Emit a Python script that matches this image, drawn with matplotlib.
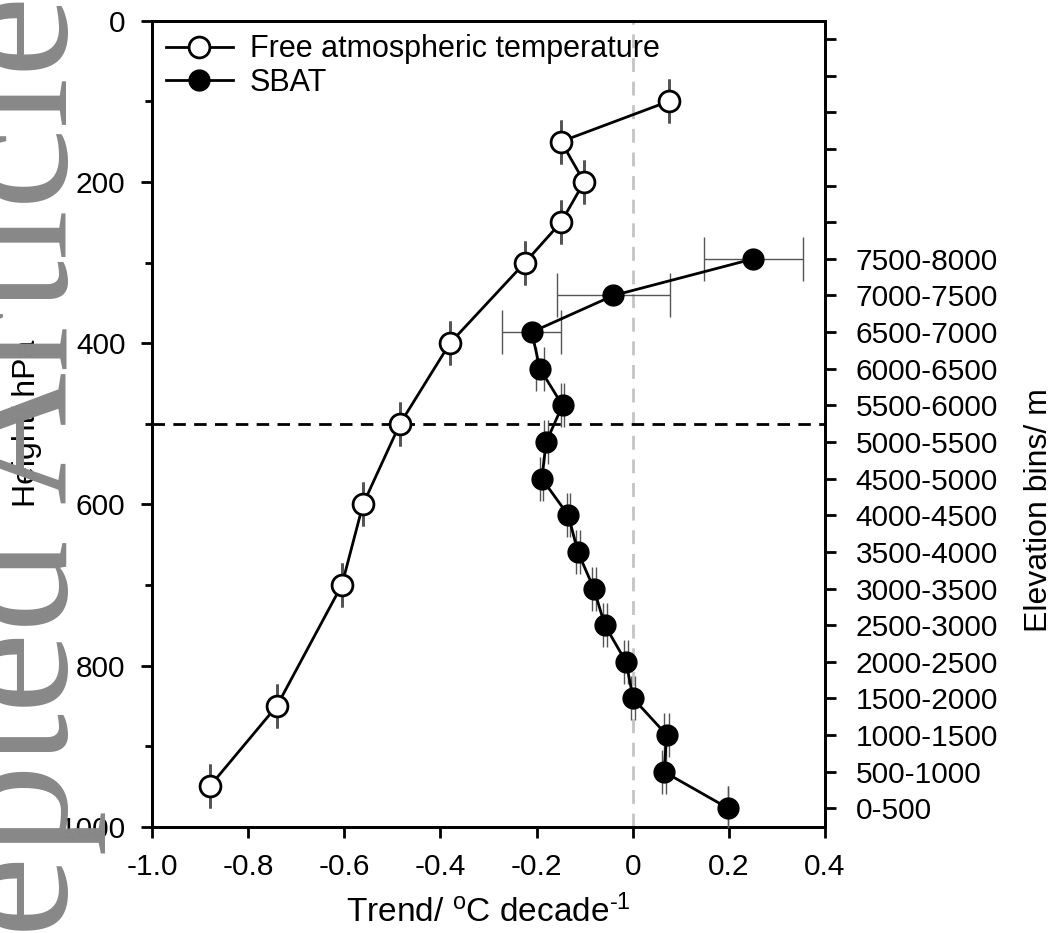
import matplotlib.pyplot as plt
import numpy as np

plt.rcParams['font.family'] = ['Liberation Sans', 'DejaVu Sans']

# free atmospheric temperature trend vs pressure level
pressure = [100, 150, 200, 250, 300, 400, 500, 600, 700, 850, 950]
fat_trend = [0.075, -0.149, -0.101, -0.149, -0.224, -0.38, -0.484, -0.561, -0.605, -0.74, -0.88]
fat_err = [0.0] * 11

# surface based air temperature trend per elevation bin
bins = ['0-500', '500-1000', '1000-1500', '1500-2000', '2000-2500', '2500-3000',
        '3000-3500', '3500-4000', '4000-4500', '4500-5000', '5000-5500',
        '5500-6000', '6000-6500', '6500-7000', '7000-7500', '7500-8000']
sbat_trend = [0.199, 0.065, 0.071, 0.001, -0.014, -0.058, -0.081, -0.114,
              -0.134, -0.189, -0.180, -0.146, -0.193, -0.21, -0.040, 0.251]
sbat_err = [0.0, 0.005, 0.005, 0.004, 0.005, 0.004, 0.004, 0.004,
            0.003, 0.003, 0.004, 0.004, 0.008, 0.061, 0.118, 0.103]

W, H = 1057, 933
fig = plt.figure(figsize=(W / 100, H / 100), dpi=100)
ax = fig.add_axes([152 / W, 1 - 826.7 / H, (825 - 152) / W, (826.7 - 20.7) / H])
ax2 = ax.twinx()

fs = 21.5
ecol = '#555555'

ax.axvline(0, color='#c4c4c4', lw=2, ls=(0, (5, 3.5)), zorder=1)
ax.axhline(500, color='black', lw=2, ls=(0, (4.5, 3)), zorder=1)

e1 = ax.errorbar(fat_trend, pressure, xerr=fat_err, fmt='-o', color='black', lw=2,
                 ms=15, mfc='white', mec='black', mew=2, ecolor=ecol,
                 elinewidth=1, capsize=15.5, capthick=1, zorder=3)
e2 = ax2.errorbar(sbat_trend, np.arange(len(bins)), xerr=sbat_err, fmt='-o', color='black',
                  lw=2, ms=15, mfc='black', mec='black', ecolor=ecol,
                  elinewidth=1, capsize=15.5, capthick=1, zorder=3)

ax.set_xlim(-1.0, 0.4)
ax.set_ylim(1000, 0)
ax2.set_ylim(-0.5, 21.5)

ax.set_xticks(np.arange(-1.0, 0.41, 0.2))
ax.set_xticklabels(['-1.0', '-0.8', '-0.6', '-0.4', '-0.2', '0', '0.2', '0.4'])
ax.set_yticks(np.arange(0, 1001, 200))
ax.set_yticks(np.arange(100, 1000, 200), minor=True)
ax2.set_yticks(np.arange(22))
ax2.set_yticklabels(bins + [''] * 6)

ax.tick_params(axis='both', which='major', direction='out', length=8, width=2,
               labelsize=fs, pad=11)
ax.tick_params(axis='y', which='minor', direction='out', length=5, width=2)
ax.tick_params(axis='x', pad=11)
ax2.tick_params(axis='y', direction='out', length=8, width=2, labelsize=fs, pad=14)

for a in (ax, ax2):
    for s in a.spines.values():
        s.set_linewidth(2)

ax.set_xlabel('Trend/ $\\mathregular{^oC}$ decade$\\mathregular{^{\u20101}}$', fontsize=24, labelpad=10)
ax.set_ylabel('Height/ hPa', fontsize=23)
ax.yaxis.set_label_coords(-0.163, 0.5)
ax2.set_ylabel('Elevation bins/ m', fontsize=23)
ax2.yaxis.set_label_coords(1.296, 0.393)

ax2.legend([e1[0], e2[0]], ['Free atmospheric temperature', 'SBAT'],
           loc='upper left', frameon=False, fontsize=22, handlelength=2.2,
           handletextpad=0.55, labelspacing=0.1, borderaxespad=0, borderpad=0.45)

fig.text(67 / W, 1.005, 'Accepted Article', rotation=90, rotation_mode='anchor',
         ha='right', va='baseline', fontsize=132, family='Liberation Serif',
         color='#888888', zorder=5)

fig.savefig('out.png', dpi=100)
